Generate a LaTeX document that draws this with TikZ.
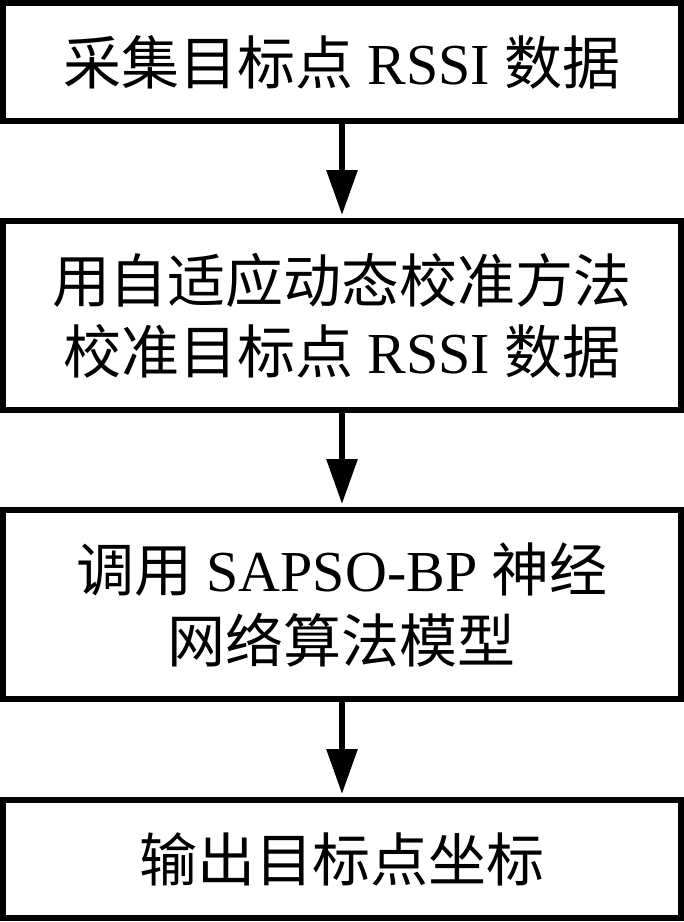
\documentclass[tikz,border=0pt]{standalone}
\usepackage{fontspec}
\setmainfont{Liberation Serif}
\newfontfamily\cjk{Noto Sans CJK SC}
\usetikzlibrary{arrows.meta}
\begin{document}
\begin{tikzpicture}[x=1pt,y=-1pt,
  box/.style={draw=black,line width=6pt,minimum width=678pt,inner sep=0pt,align=center,
    font=\fontsize{58}{71}\selectfont},
  flow/.style={line width=6pt,-{Triangle[length=45pt,width=30pt]},shorten >=3pt}]
\useasboundingbox (0,0) rectangle (684,922);
\node[box,minimum height=118pt] (b1) at (342,62) {\raisebox{4pt}{{\cjk 采集目标点} RSSI {\cjk 数据}}};
\node[box,minimum height=189pt] (b2) at (342,315.5) {{\cjk 用自适应动态校准方法}\\{\cjk 校准目标点} RSSI {\cjk 数据}};
\node[box,minimum height=189pt] (b3) at (342,604.5) {{\cjk 调用} SAPSO-BP {\cjk 神经}\\{\cjk 网络算法模型}};
\node[box,minimum height=118pt] (b4) at (342,859) {\raisebox{4pt}{{\cjk 输出目标点坐标}}};
\draw[flow] (b1.south) -- (b2.north);
\draw[flow] (b2.south) -- (b3.north);
\draw[flow] (b3.south) -- (b4.north);
\end{tikzpicture}
\end{document}
